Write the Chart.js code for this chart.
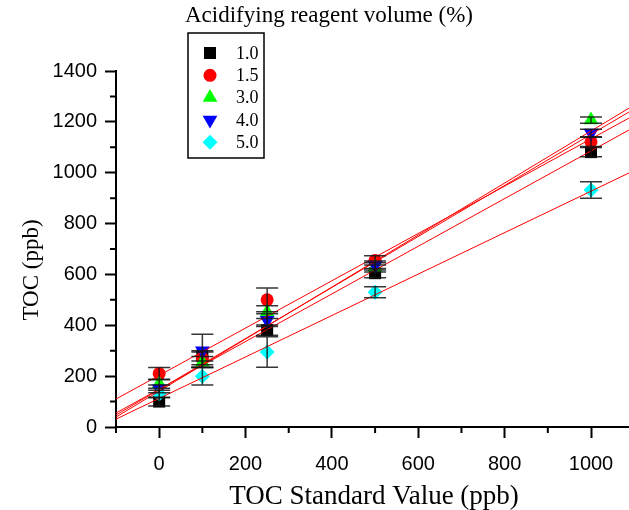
<!DOCTYPE html>
<html>
<head>
<meta charset="utf-8">
<script src="https://cdn.jsdelivr.net/npm/chart.js@4.4.1/dist/chart.umd.min.js"></script>
<style>
  html, body { margin: 0; padding: 0; background: #fff; }
  #wrap { width: 629px; height: 510px; }
</style>
</head>
<body>
<div id="wrap"><canvas id="toc" width="629" height="510"></canvas></div>
<script>
// TOC standard values (ppb)
const stdValues = [0, 100, 250, 500, 1000];
const volumes = ['1.0', '1.5', '3.0', '4.0', '5.0'];

// measured TOC per acidifying reagent volume
const toc10 = [100, 280, 381, 605, 1081];
const toc15 = [210, 270, 500, 655, 1121];
const toc30 = [170, 255, 452, 628, 1207];
const toc40 = [150, 300, 420, 635, 1156];
const toc50 = [130, 200, 295, 530, 932];

// error bar half widths
const err10 = [17, 20, 20, 18, 18];
const err15 = [24, 25, 47, 18, 18];
const err30 = [18, 22, 25, 18, 12];
const err40 = [15, 65, 25, 18, 15];
const err50 = [15, 35, 60, 22, 32];

// fitted lines, value at left edge and right edge
const fitX = [-100, 1088];
const fit10 = [55, 1168];
const fit15 = [110, 1215];
const fit30 = [39, 1254];
const fit40 = [47, 1239];
const fit50 = [31, 999];

const xTicks = [0, 200, 400, 600, 800, 1000];
const xMinor = [-100, 100, 300, 500, 700, 900];
const yMinor = [100, 300, 500, 700, 900, 1100, 1300];

const colors = ['#000000', '#ff0000', '#00ff00', '#0000ff', '#00ffff'];
const styles = ['rect', 'circle', 'triangle', 'triangle', 'rectRot'];
const rots = [0, 0, 0, 180, 0];
const radii = [8.5, 6.5, 8.5, 8.5, 7.5];

const seriesVals = [toc10, toc15, toc30, toc40, toc50];
const seriesErr = [err10, err15, err30, err40, err50];
const fits = [fit10, fit15, fit30, fit40, fit50];

const pts = v => stdValues.map((x, i) => ({x: x, y: v[i]}));

let datasets = [];
fits.forEach((f, i) => {
  datasets.push({
    type: 'line', label: 'fit' + volumes[i],
    data: fitX.map((x, j) => ({x: x, y: f[j]})),
    borderColor: '#ff0000', borderWidth: 1, pointRadius: 0, fill: false,
    order: 0
  });
});
seriesVals.forEach((v, i) => {
  datasets.push({
    type: 'scatter', label: volumes[i], data: pts(v),
    backgroundColor: colors[i], borderWidth: 0,
    pointStyle: styles[i], rotation: rots[i], pointRadius: radii[i],
    err: seriesErr[i], order: 5 - i
  });
});

// shapes for legend, same sizes as chart markers
function drawMark(ctx, i, x, y) {
  const r = radii[i];
  ctx.fillStyle = colors[i];
  ctx.beginPath();
  if (i == 0) {
    const s = r * Math.SQRT1_2;
    ctx.rect(x - s, y - s, 2 * s, 2 * s);
  } else if (i == 1) {
    ctx.arc(x, y, r, 0, Math.PI * 2);
  } else if (i == 2 || i == 3) {
    const d = i == 2 ? 1 : -1;
    ctx.moveTo(x, y - d * r);
    ctx.lineTo(x + r * 0.866, y + d * r * 0.5);
    ctx.lineTo(x - r * 0.866, y + d * r * 0.5);
    ctx.closePath();
  } else {
    ctx.moveTo(x, y - r); ctx.lineTo(x + r, y); ctx.lineTo(x, y + r); ctx.lineTo(x - r, y);
    ctx.closePath();
  }
  ctx.fill();
}

const extras = {
  id: 'extras',
  afterDatasetsDraw(chart) {
    const ctx = chart.ctx, xs = chart.scales.x, ys = chart.scales.y;
    ctx.save();
    // error bars
    ctx.strokeStyle = 'rgba(20,20,20,0.85)';
    ctx.lineWidth = 1.5;
    chart.data.datasets.forEach(ds => {
      if (!ds.err) return;
      ds.data.forEach((p, k) => {
        const px = xs.getPixelForValue(p.x);
        const top = ys.getPixelForValue(p.y + ds.err[k]);
        const bot = ys.getPixelForValue(p.y - ds.err[k]);
        ctx.beginPath();
        ctx.moveTo(px, top); ctx.lineTo(px, bot);
        ctx.moveTo(px - 11, top); ctx.lineTo(px + 11, top);
        ctx.moveTo(px - 11, bot); ctx.lineTo(px + 11, bot);
        ctx.stroke();
      });
    });
    ctx.restore();
  },
  afterDraw(chart) {
    const ctx = chart.ctx, xs = chart.scales.x, ys = chart.scales.y;
    const a = chart.chartArea;
    ctx.save();
    // minor ticks
    ctx.strokeStyle = '#000';
    ctx.lineWidth = 2;
    ctx.beginPath();
    xMinor.forEach(v => {
      const px = xs.getPixelForValue(v);
      ctx.moveTo(px, a.bottom); ctx.lineTo(px, a.bottom + 6);
    });
    yMinor.forEach(v => {
      const py = ys.getPixelForValue(v);
      ctx.moveTo(a.left, py); ctx.lineTo(a.left - 6, py);
    });
    ctx.stroke();

    // axis titles
    ctx.fillStyle = '#000';
    ctx.font = '27px "Liberation Serif"';
    ctx.textAlign = 'center';
    ctx.textBaseline = 'alphabetic';
    ctx.fillText('TOC Standard Value (ppb)', 374, 504);
    ctx.save();
    ctx.translate(38, 270);
    ctx.rotate(-Math.PI / 2);
    ctx.font = '23px "Liberation Serif"';
    ctx.fillText('TOC (ppb)', 0, 0);
    ctx.restore();

    // legend title
    ctx.font = '23px "Liberation Serif"';
    ctx.fillText('Acidifying reagent volume (%)', 329, 22);

    // legend box
    ctx.lineWidth = 1.5;
    ctx.strokeStyle = '#000';
    ctx.strokeRect(188, 33, 76, 125);
    ctx.font = '18px "Liberation Serif"';
    ctx.textAlign = 'left';
    ctx.textBaseline = 'middle';
    volumes.forEach((t, i) => {
      const y = 53 + i * 22.3;
      drawMark(ctx, i, 210, y);
      ctx.fillStyle = '#000';
      ctx.fillText(t, 236, y + 1);
    });
    ctx.restore();
  }
};

new Chart(document.getElementById('toc'), {
  type: 'scatter',
  data: { datasets: datasets },
  options: {
    responsive: false,
    devicePixelRatio: 1,
    animation: false,
    layout: { autoPadding: false, padding: { top: 71, right: 0, bottom: 0, left: 0 } },
    plugins: { legend: { display: false }, tooltip: { enabled: false } },
    scales: {
      x: {
        type: 'linear', min: -100, max: 1088,
        afterBuildTicks: s => { s.ticks = xTicks.map(v => ({value: v})); },
        afterFit: s => { s.height = 83; s.paddingLeft = 0; s.paddingRight = 0; },
        grid: { drawOnChartArea: false, drawTicks: true, tickLength: 11, tickColor: '#000', tickWidth: 2 },
        border: { display: true, color: '#000', width: 2 },
        ticks: { color: '#000', font: { family: 'Liberation Sans', size: 20 }, padding: 14, maxRotation: 0,
                 callback: v => String(v) }
      },
      y: {
        min: 0, max: 1400,
        afterFit: s => { s.width = 116; s.paddingTop = 0; s.paddingBottom = 0; },
        grid: { drawOnChartArea: false, drawTicks: true, tickLength: 11, tickColor: '#000', tickWidth: 2 },
        border: { display: true, color: '#000', width: 2 },
        ticks: { stepSize: 200, color: '#000', font: { family: 'Liberation Sans', size: 20 }, padding: 8,
                 callback: v => String(v) }
      }
    }
  },
  plugins: [extras]
});
</script>
</body>
</html>
